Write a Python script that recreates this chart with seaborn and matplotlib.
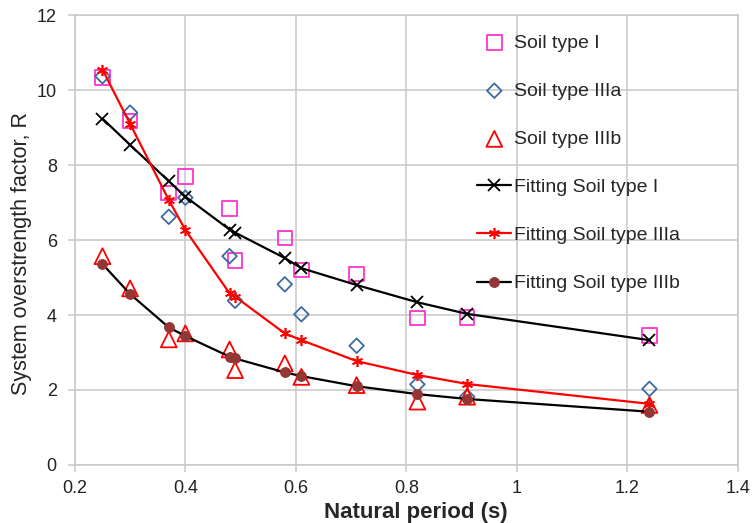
import numpy as np
import pandas as pd
import matplotlib
matplotlib.use("Agg")
import matplotlib.pyplot as plt
import seaborn as sns

# natural period of the frames (s)
period = [0.25, 0.30, 0.37, 0.40, 0.48, 0.49, 0.58, 0.61, 0.71, 0.82, 0.91, 1.24]

# observed overstrength factors
soil_I = [10.33, 9.18, 7.25, 7.69, 6.84, 5.45, 6.05, 5.20, 5.09, 3.92, 3.94, 3.45]
soil_IIIa = [10.37, 9.40, 6.62, 7.13, 5.57, 4.38, 4.82, 4.02, 3.18, 2.15, 1.82, 2.03]
soil_IIIb = [5.57, 4.71, 3.35, 3.51, 3.08, 2.53, 2.71, 2.35, 2.13, 1.69, 1.82, 1.60]

# fitted curves
fit_I = [9.24, 8.54, 7.57, 7.16, 6.28, 6.20, 5.52, 5.25, 4.80, 4.34, 4.03, 3.33]
fit_IIIa = [10.55, 9.10, 7.07, 6.27, 4.58, 4.49, 3.51, 3.33, 2.77, 2.40, 2.16, 1.63]
fit_IIIb = [5.36, 4.56, 3.67, 3.44, 2.89, 2.84, 2.47, 2.37, 2.10, 1.89, 1.76, 1.42]

x_ticks = [0.2, 0.4, 0.6, 0.8, 1.0, 1.2, 1.4]
x_tick_labels = ["0.2", "0.4", "0.6", "0.8", "1", "1.2", "1.4"]
y_ticks = [0, 2, 4, 6, 8, 10, 12]

sns.set_style("white")
plt.rcParams['font.family'] = ['Liberation Sans', 'DejaVu Sans']

df = pd.DataFrame({
    "period": period,
    "soil_I": soil_I, "soil_IIIa": soil_IIIa, "soil_IIIb": soil_IIIb,
    "fit_I": fit_I, "fit_IIIa": fit_IIIa, "fit_IIIb": fit_IIIb,
})

fig = plt.figure(figsize=(7.56, 5.23), dpi=100)
ax = fig.add_axes([0.099, 0.111, 0.877, 0.860])

magenta = "#FF33CC"
blue = "#3E6AA6"
red = "#FF0000"
brown = "#943634"

sns.scatterplot(data=df, x="period", y="soil_I", ax=ax, marker="s", s=110,
                facecolor="none", edgecolor=magenta, color=magenta,
                linewidth=1.3, label="Soil type I", zorder=3)
sns.scatterplot(data=df, x="period", y="soil_IIIa", ax=ax, marker="D", s=55,
                facecolor="none", edgecolor=blue, color=blue,
                linewidth=1.3, label="Soil type IIIa", zorder=3)
sns.scatterplot(data=df, x="period", y="soil_IIIb", ax=ax, marker="^", s=130,
                facecolor="none", edgecolor=red, color=red,
                linewidth=1.3, label="Soil type IIIb", zorder=3)

sns.lineplot(data=df, x="period", y="fit_I", ax=ax, color="black", lw=1.6,
             marker="x", markersize=9, markeredgecolor="black",
             markeredgewidth=1.3, label="Fitting Soil type I",
             errorbar=None, sort=False, zorder=4)
sns.lineplot(data=df, x="period", y="fit_IIIa", ax=ax, color=red, lw=1.6,
             marker=(6, 2, 0), markersize=8, markeredgecolor=red,
             markeredgewidth=1.2, label="Fitting Soil type IIIa",
             errorbar=None, sort=False, zorder=4)
sns.lineplot(data=df, x="period", y="fit_IIIb", ax=ax, color="black", lw=1.6,
             marker="o", markersize=7, markerfacecolor=brown,
             markeredgecolor=brown, markeredgewidth=0.8,
             label="Fitting Soil type IIIb",
             errorbar=None, sort=False, zorder=4)

ax.set_xlim(0.2, 1.4)
ax.set_ylim(0, 12)
ax.set_xticks(x_ticks)
ax.set_xticklabels(x_tick_labels)
ax.set_yticks(y_ticks)
ax.grid(True, color="#C8C8C8", lw=1.1)
ax.set_axisbelow(True)
for sp in ax.spines.values():
    sp.set_color("#C8C8C8")
    sp.set_linewidth(1.1)
ax.tick_params(axis="both", labelsize=13, colors="#C8C8C8", labelcolor="#222222",
               length=5, width=1.1, direction="out", bottom=True, left=True)
ax.tick_params(axis="x", pad=6)
ax.tick_params(axis="y", pad=8)

ax.set_xlabel("Natural period (s)", fontsize=16, fontweight="bold")
ax.xaxis.set_label_coords(0.515, -0.082)
ax.set_ylabel("System overstrength factor, R", fontsize=15.5)
ax.yaxis.set_label_coords(-0.064, 0.471)

handles, labels = ax.get_legend_handles_labels()
order = ["Soil type I", "Soil type IIIa", "Soil type IIIb",
         "Fitting Soil type I", "Fitting Soil type IIIa", "Fitting Soil type IIIb"]
hmap = dict(zip(labels, handles))
ax.legend([hmap[k] for k in order], order, loc="upper left",
          bbox_to_anchor=(0.607, 0.958), frameon=False, fontsize=14,
          labelspacing=1.57, handlelength=1.75, handletextpad=0.15,
          borderpad=0, borderaxespad=0, scatterpoints=1)

fig.savefig("out.png", dpi=100)
